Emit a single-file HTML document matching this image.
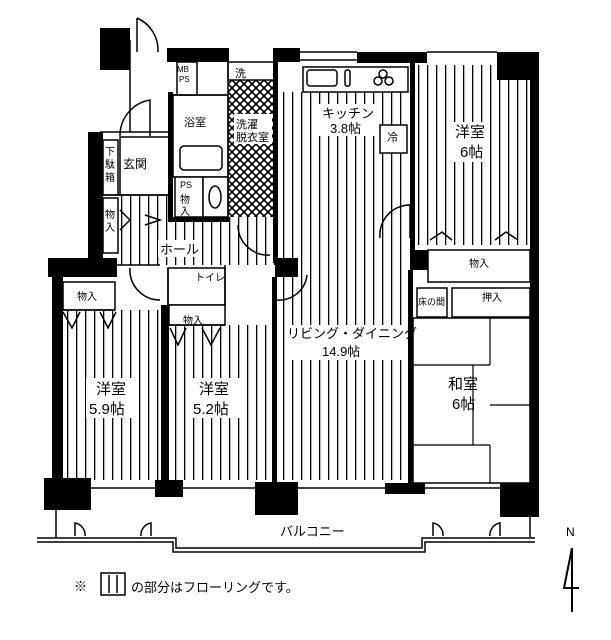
<!DOCTYPE html>
<html><head><meta charset="utf-8"><style>
html,body{margin:0;padding:0;background:#fff;}
svg{display:block}
text{font-family:"Liberation Sans","Noto Sans CJK JP",sans-serif;fill:#000;}
</style></head><body>
<svg width="611" height="640" viewBox="0 0 611 640" xmlns="http://www.w3.org/2000/svg">
<defs>
<pattern id="h" width="9" height="10" patternUnits="userSpaceOnUse"><rect width="9" height="10" fill="#fff"/><rect x="4" width="1.3" height="10" fill="#000"/></pattern>
<pattern id="x" width="8" height="8" patternUnits="userSpaceOnUse"><rect width="8" height="8" fill="#fff"/><path d="M0 0L8 8M8 0L0 8" stroke="#000" stroke-width="1.6"/></pattern>
</defs>
<g stroke="#000" stroke-width="1.5" fill="none">
<rect x="63" y="310" width="98" height="170" fill="url(#h)" stroke="none"/>
<rect x="169" y="325" width="103" height="155" fill="url(#h)" stroke="none"/>
<rect x="277" y="92" width="131" height="388" fill="url(#h)" stroke="none"/>
<rect x="413" y="65" width="117" height="180" fill="url(#h)" stroke="none"/>
<rect x="120" y="195" width="155" height="70" fill="url(#h)" stroke="none"/>
<rect x="228" y="62" width="47" height="155" fill="url(#x)" stroke="none"/>
<g fill="#fff" stroke="none">
<rect x="318" y="104" width="58" height="32"/>
<rect x="452" y="122" width="36" height="40"/>
<rect x="234" y="114" width="38" height="30"/>
<rect x="158" y="240" width="44" height="17"/>
<rect x="285" y="325" width="123" height="35"/>
<rect x="86" y="378" width="52" height="40"/>
<rect x="190" y="378" width="52" height="40"/>
<rect x="275" y="522" width="75" height="18"/>
</g>
<rect x="120" y="137" width="50" height="58" fill="#fff"/>
<rect x="103" y="140" width="15" height="55" fill="#fff"/>
<rect x="103" y="198" width="15" height="55" fill="#fff"/>
<rect x="173" y="95" width="55" height="82" fill="#fff"/>
<rect x="180" y="146" width="42" height="24" rx="4"/>
<rect x="177" y="62" width="20" height="33" fill="#fff"/>
<rect x="175" y="177" width="28" height="40" fill="#fff"/>
<rect x="203" y="177" width="25" height="40" fill="#fff"/>
<ellipse cx="215" cy="197" rx="6" ry="11"/>
<rect x="168" y="268" width="57" height="37" fill="#fff"/>
<rect x="63" y="282" width="52" height="28" fill="#fff"/>
<rect x="169" y="305" width="56" height="20" fill="#fff"/>
<rect x="228" y="62" width="47" height="18" fill="#fff"/>
<rect x="303" y="67" width="105" height="25" fill="#fff"/>
<rect x="307" y="70" width="30" height="16" rx="3"/>
<rect x="345" y="70" width="5" height="16" rx="2"/>
<circle cx="383" cy="74" r="4"/><circle cx="378" cy="81" r="4"/><circle cx="389" cy="81" r="4"/>
<rect x="380" y="125" width="27" height="28" fill="#fff"/>
<rect x="428" y="250" width="102" height="32" fill="#fff"/>
<rect x="452" y="288" width="78" height="29" fill="#fff"/>
<rect x="417" y="288" width="30" height="29" fill="#fff"/>
<rect x="413" y="318" width="117" height="165" fill="#fff"/>
<path d="M490 318V365M413 365H490M473 365V445M413 445H490M490 405H530M490 445V483" stroke-width="1.2"/>
<g fill="#000" stroke="none">
<rect x="100" y="28" width="30" height="42"/>
<rect x="167" y="48" width="62" height="14"/>
<rect x="273" y="48" width="27" height="14"/>
<rect x="357" y="52" width="70" height="11"/>
<rect x="497" y="52" width="33" height="28"/>
<rect x="530" y="52" width="9" height="465"/>
<rect x="88" y="132" width="15" height="131"/>
<rect x="48" y="258" width="69" height="19"/>
<rect x="52" y="258" width="11" height="222"/>
<rect x="273" y="48" width="5" height="215"/>
<rect x="275" y="258" width="23" height="19"/>
<rect x="410" y="60" width="5" height="190"/>
<rect x="410" y="250" width="18" height="20"/>
<rect x="408" y="270" width="5" height="213"/>
<rect x="161" y="305" width="8" height="175"/>
<rect x="272" y="277" width="5" height="205"/>
<rect x="44" y="478" width="47" height="32"/>
<rect x="155" y="480" width="28" height="17"/>
<rect x="255" y="482" width="43" height="33"/>
<rect x="385" y="483" width="40" height="11"/>
<rect x="500" y="483" width="39" height="34"/>
<rect x="168" y="92" width="5" height="130"/>
<rect x="168" y="217" width="62" height="5"/>
</g>
<path d="M130 40V70M130 70V132M100 132H170V195H103M173 95H228M228 62V217M300 52H357M300 60H357M427 52H497M91 488H155M183 488H255M298 488H385M425 488H500"/>
<path d="M117 265H160M168 268V305M225 265V305M63 310H115M169 325H225"/>
<path d="M137 18V52M137 18A35 35 0 0 1 158 52"/>
<path d="M120 136A36 36 0 0 1 150 100V136"/>
<path d="M238 225A30 30 0 0 0 270 255"/>
<path d="M130 268A30 30 0 0 0 160 300"/>
<path d="M380 238A30 30 0 0 1 410 205V238"/>
<path d="M277 300A28 28 0 0 0 307 275"/>
<path d="M63 312L72 328L80 312M100 312L108 328L116 312M170 328L178 345L186 328M202 328L211 345L220 328"/>
<path d="M430 240L442 232L452 240M495 240L506 232L518 240"/>
<path d="M120 210L130 220L120 230M145 215L160 220L145 225"/>
<path d="M56 510V537M530 517V537M37 538H176V548H422V538H535M37 542H173V552H425V542H535"/>
<path d="M75 536V523A12 12 0 0 1 85 536M151 536V523A12 12 0 0 0 141 536M433 536V523A12 12 0 0 1 443 536M500 536V523A12 12 0 0 0 490 536"/>
<path d="M572 548V612M572 548L564 588H579" stroke-width="2"/>
<rect x="101" y="573" width="24" height="22"/>
<path d="M109 575V593M117 575V593"/>
</g>
<g font-size="13">
<text x="322" y="118">キッチン</text><text x="330" y="133">3.8帖</text>
<text x="455" y="137" font-size="15">洋室</text><text x="460" y="157" font-size="15">6帖</text>
<text x="184" y="126" font-size="11">浴室</text>
<text x="236" y="128" font-size="11">洗濯</text><text x="236" y="141" font-size="11">脱衣室</text>
<text x="235" y="77" font-size="11">洗</text>
<text x="177" y="72" font-size="8">MB</text><text x="179" y="82" font-size="8">PS</text>
<text x="123" y="168" font-size="12">玄関</text>
<text x="105" y="155" font-size="10">下</text><text x="105" y="168" font-size="10">駄</text><text x="105" y="181" font-size="10">箱</text>
<text x="105" y="218" font-size="10">物</text><text x="105" y="231" font-size="10">入</text>
<text x="180" y="188" font-size="9">PS</text>
<text x="180" y="203" font-size="10">物</text><text x="180" y="215" font-size="10">入</text>
<text x="160" y="254">ホール</text>
<text x="195" y="281" font-size="10">トイレ</text>
<text x="77" y="300" font-size="10">物入</text>
<text x="183" y="324" font-size="10">物入</text>
<text x="469" y="267" font-size="10">物入</text>
<text x="482" y="301" font-size="10">押入</text>
<text x="418" y="305" font-size="9">床の間</text>
<text x="387" y="141" font-size="11">冷</text>
<text x="287" y="338">リビング・ダイニング</text>
<text x="322" y="356">14.9帖</text>
<text x="96" y="394" font-size="15">洋室</text><text x="89" y="414" font-size="15">5.9帖</text>
<text x="199" y="394" font-size="15">洋室</text><text x="193" y="414" font-size="15">5.2帖</text>
<text x="448" y="389" font-size="15">和室</text><text x="452" y="409" font-size="15">6帖</text>
<text x="280" y="536" font-size="13">バルコニー</text>
<text x="566" y="536" font-size="12">N</text>
<text x="74" y="591" font-size="13">※</text>
<text x="131" y="592" font-size="13">の部分はフローリングです。</text>
</g>
</svg>
</body></html>
